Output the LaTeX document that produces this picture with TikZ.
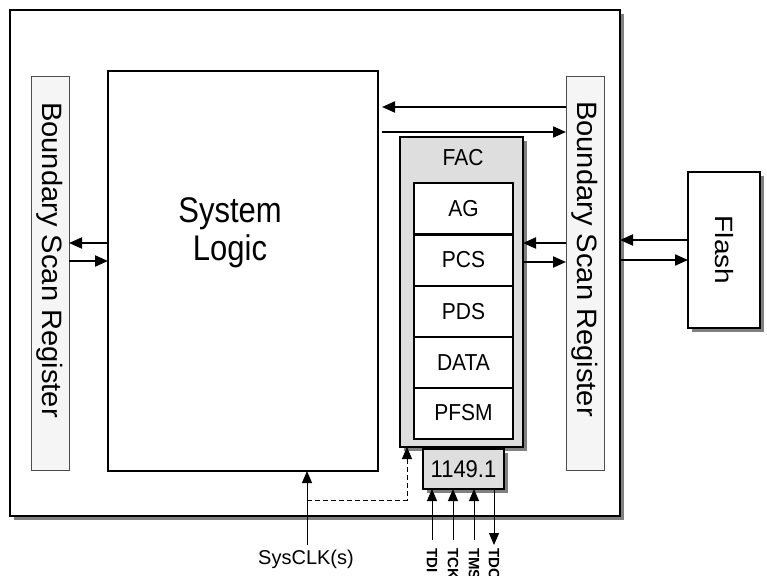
\documentclass[tikz,border=0pt]{standalone}
\usepackage{fontspec}
\usepackage{graphicx}
\setmainfont{Liberation Sans}
\usetikzlibrary{arrows.meta,shadows}

\tikzset{
  box/.style={draw, inner sep=0pt, outer sep=0pt},
  shade box/.style={drop shadow={shadow xshift=4pt, shadow yshift=-4pt, fill=black!50, opacity=1}},
  chipbox/.style={box, line width=2pt, fill=white, shade box},
  logicbox/.style={box, line width=1.5pt, fill=white},
  bsrbox/.style={box, draw=black!70, line width=0.8pt, fill=black!4},
  facbox/.style={box, line width=1.6pt, fill=black!13, shade box},
  rowbox/.style={box, line width=2pt, fill=white},
  arr/.style={line width=2pt, -{Triangle[length=13pt,width=11pt]}},
  thinarr/.style={line width=1pt, -{Triangle[length=12pt,width=10pt]}},
  sigtxt/.style={font=\fontsize{15}{15}\selectfont\bfseries, rotate=-90, anchor=west, inner sep=0pt},
  bsrtxt/.style={font=\fontsize{28}{28}\selectfont, inner sep=0pt},
}

\begin{document}
\begin{tikzpicture}[x=1pt, y=-1pt]
\useasboundingbox[fill=white] (0,0) rectangle (767,575);

% device outline
\node[chipbox, minimum width=610pt, minimum height=506pt] (chip) at (315,263) {};

% boundary scan registers
\node[bsrbox, minimum width=38pt, minimum height=394pt] (bsrL) at (50,273) {};
\node[bsrtxt] (bsrLtxt) at (50,260)
  {\rotatebox{-90}{\scalebox{1.04}[1]{Boundary Scan Register}}};
\node[bsrbox, minimum width=38pt, minimum height=394pt] (bsrR) at (585,273) {};
\node[bsrtxt] (bsrRtxt) at (585,259)
  {\rotatebox{-90}{\scalebox{1.04}[1]{Boundary Scan Register}}};

% system logic
\node[logicbox, minimum width=270pt, minimum height=400pt] (sys) at (243,271) {};
\node[align=center, font=\fontsize{31}{36}\selectfont] (syslbl) at (230,233)
  {\scalebox{1}[1.15]{System}\\[2pt]\scalebox{1}[1.15]{Logic}};

% flash access controller
\node[facbox, minimum width=123pt, minimum height=310pt] (fac) at (461.5,292) {};
\node[font=\fontsize{21}{21}\selectfont] (faclbl) at (463,158) {\scalebox{1}[1.1]{FAC}};
\foreach \n/\t/\yy in {ag/AG/208.5, pcs/PCS/260, pds/PDS/311.5, data/DATA/362.5, pfsm/PFSM/413}
  \node[rowbox, minimum width=99pt, minimum height=51pt, font=\fontsize{21}{21}\selectfont] (\n) at (463.5,\yy) {\scalebox{1}[1.1]{\t}};

% JTAG port
\node[facbox, minimum width=81pt, minimum height=40pt, font=\fontsize{22}{22}\selectfont] (jtag) at (463.5,469) {\scalebox{1}[1.1]{1149.1}};

% flash device
\node[logicbox, shade box, minimum width=72pt, minimum height=156pt] (flash) at (724,250)
  {\rotatebox{-90}{\scalebox{1.12}[1]{\fontsize{25}{25}\selectfont Flash}}};

% data paths
\draw[arr] (bsrR.west |- 0,107) -- ([xshift=4pt]sys.east |- 0,107);
\draw[arr] ([xshift=4pt]sys.east |- 0,132) -- (bsrR.west |- 0,132);
\draw[arr] (sys.west |- 0,243) -- (bsrL.east |- 0,243);
\draw[arr] (bsrL.east |- 0,261) -- (sys.west |- 0,261);
\draw[arr] (bsrR.west |- 0,243) -- (fac.east |- 0,243);
\draw[arr] (fac.east |- 0,262) -- (bsrR.west |- 0,262);
\draw[arr] (flash.west |- 0,240) -- (chip.east |- 0,240);
\draw[arr] (chip.east |- 0,260) -- (flash.west |- 0,260);

% system clock
\coordinate (clk) at (307,545);
\coordinate (clksplit) at (307,500);
\draw[thinarr] (clk) -- (clk |- sys.south);
\draw[thinarr, dashed, dash pattern=on 5pt off 3pt] (clksplit) -| (fac.south -| 407,0);
\node[font=\fontsize{20}{20}\selectfont, anchor=north] (clklbl) at (306,546) {SysCLK(s)};

% test access port signals
\coordinate (tdi) at (432,540);
\coordinate (tck) at (453,540);
\coordinate (tms) at (474,540);
\coordinate (tdo) at (494,545);
\draw[thinarr] (tdi) -- (tdi |- jtag.south);
\draw[thinarr] (tck) -- (tck |- jtag.south);
\draw[thinarr] (tms) -- (tms |- jtag.south);
\draw[thinarr] (tdo |- jtag.south) -- (tdo);
\node[sigtxt] (tdilbl) at (432,548) {TDI};
\node[sigtxt] (tcklbl) at (453,548) {TCK};
\node[sigtxt] (tmslbl) at (474,548) {TMS};
\node[sigtxt] (tdolbl) at (494,548) {TDO};
\end{tikzpicture}
\end{document}
